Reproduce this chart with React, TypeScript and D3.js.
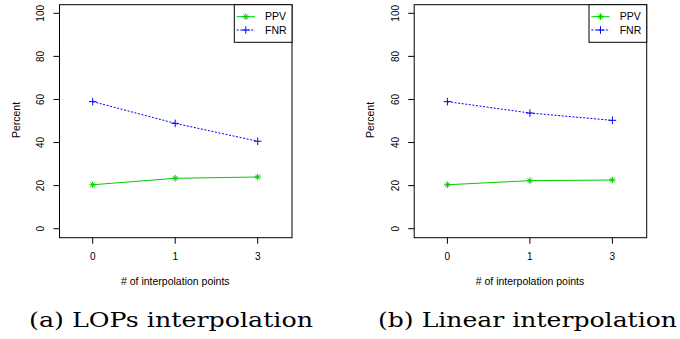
import React from "react";
import * as d3 from "d3";

const categories = ["0", "1", "3"];
const lopsPPV = [20.4, 23.4, 24.0];
const lopsFNR = [59.0, 48.9, 40.6];
const linearPPV = [20.4, 22.3, 22.6];
const linearFNR = [59.0, 53.7, 50.3];
const yTicks = [0, 20, 40, 60, 80, 100];
const seriesNames = ["PPV", "FNR"];
const captions = ["(a) LOPs interpolation", "(b) Linear interpolation"];

const GREEN = "#00CD00";
const BLUE = "#0000FF";
const SANS = "'Liberation Sans', Arial, Helvetica, sans-serif";

function Star({ x, y, color }: { x: number; y: number; color: string }) {
  const r = 3.3;
  const d = r * 0.72;
  return (
    <g stroke={color} strokeWidth={1}>
      <line x1={x - r} y1={y} x2={x + r} y2={y} />
      <line x1={x} y1={y - r} x2={x} y2={y + r} />
      <line x1={x - d} y1={y - d} x2={x + d} y2={y + d} />
      <line x1={x - d} y1={y + d} x2={x + d} y2={y - d} />
    </g>
  );
}

function Plus({ x, y, color }: { x: number; y: number; color: string }) {
  const r = 3.8;
  return (
    <g stroke={color} strokeWidth={1}>
      <line x1={x - r} y1={y} x2={x + r} y2={y} />
      <line x1={x} y1={y - r} x2={x} y2={y + r} />
    </g>
  );
}

function Panel({ ox, ppv, fnr, caption, capW }: { ox: number; ppv: number[]; fnr: number[]; caption: string; capW: number }) {
  const left = 59.5, right = 292, top = 4.7, bottom = 237.7;
  const x = d3.scalePoint<string>().domain(categories).range([92.7, 257.7]);
  const y = d3.scaleLinear().domain([0, 100]).range([228.7, 13.3]);
  const line = d3
    .line<number>()
    .x((_, i) => x(categories[i]) as number)
    .y((d) => y(d));
  const legL = 234.3;
  return (
    <g transform={`translate(${ox},0)`}>
      <rect x={left} y={top} width={right - left} height={bottom - top} fill="none" stroke="#000" strokeWidth={1} />
      {/* y axis */}
      <line x1={left - 6} x2={left - 6} y1={y(0)} y2={y(100)} stroke="#000" strokeWidth={0} />
      {yTicks.map((t) => (
        <g key={t}>
          <line x1={left - 6} x2={left} y1={y(t)} y2={y(t)} stroke="#000" />
          <text
            transform={`translate(${40.7 + 3.5},${y(t)}) rotate(-90)`}
            textAnchor="middle"
            fontFamily={SANS}
            fontSize={10}
            fill="#000"
          >
            {t}
          </text>
        </g>
      ))}
      {/* x axis */}
      {categories.map((c) => (
        <g key={c}>
          <line x1={x(c)} x2={x(c)} y1={bottom} y2={bottom + 6} stroke="#000" />
          <text x={x(c)} y={256.7 + 3.6} textAnchor="middle" fontFamily={SANS} fontSize={10} fill="#000">
            {c}
          </text>
        </g>
      ))}
      <text x={175.3} y={281.7 + 3.7} textAnchor="middle" fontFamily={SANS} fontSize={10.5} fill="#000">
        # of interpolation points
      </text>
      <text
        transform={`translate(${16 + 3.7},120) rotate(-90)`}
        textAnchor="middle"
        fontFamily={SANS}
        fontSize={10.5}
        fill="#000"
      >
        Percent
      </text>
      {/* series */}
      <path d={line(fnr) || ""} fill="none" stroke={BLUE} strokeWidth={1} strokeDasharray="2,1.6" />
      <path d={line(ppv) || ""} fill="none" stroke={GREEN} strokeWidth={1} />
      {fnr.map((v, i) => (
        <Plus key={"f" + i} x={x(categories[i]) as number} y={y(v)} color={BLUE} />
      ))}
      {ppv.map((v, i) => (
        <Star key={"p" + i} x={x(categories[i]) as number} y={y(v)} color={GREEN} />
      ))}
      {/* legend */}
      <rect x={legL} y={top} width={right - legL} height={42.3 - top} fill="#fff" stroke="#000" strokeWidth={1} />
      <line x1={236.7} x2={255} y1={16.7} y2={16.7} stroke={GREEN} />
      <Star x={245.8} y={16.7} color={GREEN} />
      <line x1={236.7} x2={255} y1={30} y2={30} stroke={BLUE} strokeDasharray="2,1.6" />
      <Plus x={245.8} y={30} color={BLUE} />
      <text x={265} y={16.7 + 3.7} fontFamily={SANS} fontSize={10.5} fill="#000">
        {seriesNames[0]}
      </text>
      <text x={265} y={30 + 3.7} fontFamily={SANS} fontSize={10.5} fill="#000">
        {seriesNames[1]}
      </text>
      <text
        x={capW / 2 + (ox === 0 ? 29 : 378 - ox)}
        y={327}
        textAnchor="middle"
        fontFamily="'DejaVu Serif', serif"
        fontSize={20}
        textLength={capW}
        lengthAdjust="spacingAndGlyphs"
        fill="#000"
      >
        {caption}
      </text>
    </g>
  );
}

export default function App() {
  return (
    <svg
      width={680}
      height={339}
      viewBox="0 0 680 339"
      style={{ position: "absolute", left: 0, top: 0, background: "#fff" }}
    >
      <rect width={680} height={339} fill="#fff" />
      <Panel ox={0} ppv={lopsPPV} fnr={lopsFNR} caption={captions[0]} capW={284} />
      <Panel ox={354.7} ppv={linearPPV} fnr={linearFNR} caption={captions[1]} capW={299} />
    </svg>
  );
}
